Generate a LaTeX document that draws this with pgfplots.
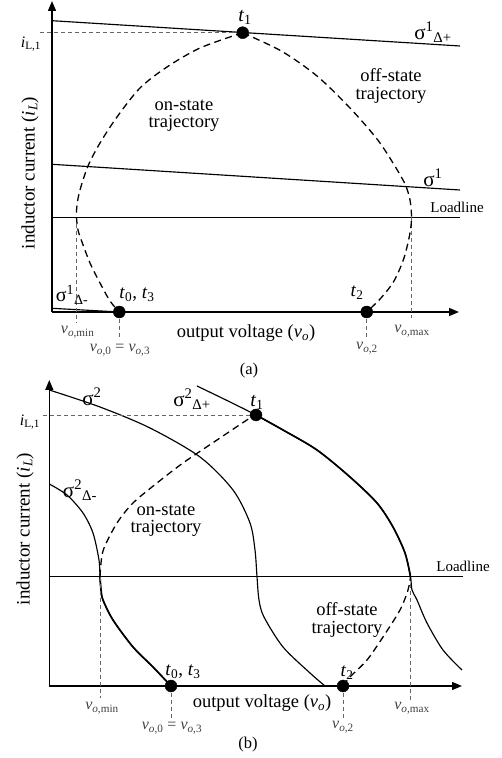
\documentclass[border=0pt]{standalone}
\usepackage{pgfplots}
\pgfplotsset{compat=1.18}
\usepackage{fontspec}
\setmainfont{Liberation Serif}
\usetikzlibrary{arrows.meta}

\newcommand{\fs}[1]{\fontsize{#1}{#1}\selectfont}
\newcommand{\vv}[1]{\textit{v}\textsubscript{#1}}

\tikzset{
  sig/.style={black, line width=1.15pt},
  ride/.style={black, line width=1.7pt},
  traj/.style={black, line width=1.3pt, dash pattern=on 7pt off 4.5pt},
  guide/.style={black!60, line width=0.8pt, dash pattern=on 4pt off 3pt},
  txt/.style={font=\fs{18.5}, align=center},
  vl/.style={font=\fs{16}, text=black!75},
}
\pgfplotsset{
  phase/.style={
    x=1pt, y=1pt, anchor=south west,
    axis lines=left, xtick=\empty, ytick=\empty, clip=false,
    axis line style={line width=1.4pt, -{Triangle[length=10pt,width=8pt]}},
  },
  dots/.style={only marks, mark=*, mark size=6pt, black},
}

\begin{document}
\begin{tikzpicture}
\path[use as bounding box] (0pt,0pt) rectangle (501pt,758pt);

% ---------------- (a) sliding lines sigma^1 ----------------
\begin{axis}[phase, at={(52pt,446pt)}, xmin=52, xmax=459, ymin=446, ymax=757]
  \addplot[sig] coordinates {(52,737.3) (460,712)};
  \addplot[sig] coordinates {(52,593.7) (460,568)};
  \addplot[sig] coordinates {(52,540.7) (460,540.7)};
  \addplot[sig] coordinates {(52,449.7) (119.3,446)};
  \addplot[guide] coordinates {(40,725.3) (242.7,725.3)};
  \addplot[guide] coordinates {(76.5,541) (76.5,435)};
  \addplot[guide] coordinates {(119.3,446) (119.3,418)};
  \addplot[guide] coordinates {(366.7,446) (366.7,420)};
  \addplot[guide] coordinates {(411.5,541) (411.5,440)};
  % on-state trajectory
  \addplot[traj, smooth] coordinates {(242.7,725.3) (200,710) (167,691) (140,670)
    (117,641) (100,615) (88,592) (80,568) (77,553) (76.5,541) (78,528) (82,516)
    (90,495) (100,475) (110,457) (119.3,446)};
  % off-state trajectory
  \addplot[traj, smooth] coordinates {(242.7,725.3) (250,722) (283,706) (317,682)
    (350,650) (377,619) (393,595) (405,574) (410,558) (411.5,541) (410,525)
    (404,500) (394,477) (381,460) (366.7,446)};
  \addplot[traj] coordinates {(119.3,446) (366.7,446)};
  \addplot[dots] coordinates {(242.7,725.3) (119.3,446) (366.7,446)};

  \node[font=\fs{20}] at (axis cs:245,741) {\textit{t}\textsubscript{1}};
  \node[font=\fs{21}] at (axis cs:433,726) {σ\textsuperscript{1}\textsubscript{Δ+}};
  \node[font=\fs{21}] at (axis cs:433,580) {σ\textsuperscript{1}};
  \node[font=\fs{15}] at (axis cs:457,551) {Loadline};
  \node[font=\fs{20}] at (axis cs:72,463) {σ\textsuperscript{1}\textsubscript{Δ-}};
  \node[font=\fs{16}] at (axis cs:31,714) {\textit{i}\textsubscript{L,1}};
  \node[font=\fs{19}] at (axis cs:137,463) {\textit{t}\textsubscript{0}, \textit{t}\textsubscript{3}};
  \node[font=\fs{19}] at (axis cs:357,465) {\textit{t}\textsubscript{2}};
  \node[txt] at (axis cs:184,642) {on-state\\[-1pt]trajectory};
  \node[txt] at (axis cs:391,672) {off-state\\[-1pt]trajectory};
  \node[font=\fs{19}, rotate=90] at (axis cs:30,585) {inductor current (\textit{i}\textsubscript{\textit{L}})};
  \node[txt] at (axis cs:246,425) {output voltage (\vv{\textit{o}})};
  \node[vl] at (axis cs:77.7,426) {\vv{\textit{o},min}};
  \node[vl] at (axis cs:120,408) {\vv{\textit{o},0} = \vv{\textit{o},3}};
  \node[vl] at (axis cs:367,410) {\vv{\textit{o},2}};
  \node[vl] at (axis cs:412,427) {\vv{\textit{o},max}};
  \node[font=\fs{16.5}] at (axis cs:249,387) {(a)};
\end{axis}

% ---------------- (b) sliding curves sigma^2 ----------------
\begin{axis}[phase, at={(49.3pt,72pt)}, xmin=49.3, xmax=462, ymin=72, ymax=378]
  \addplot[sig] coordinates {(49.3,181.3) (463,181.3)};
  \addplot[sig, smooth] coordinates {(49.3,368) (100,351) (150,330) (200,301)
    (233,268) (250,235) (255,208) (257,181.3) (259,158) (264,141) (283,111)
    (310,85) (325,72)};
  \addplot[sig, smooth] coordinates {(197,372) (226,358) (256,343) (283,328)
    (317,308) (350,281) (377,255) (393,231) (405,205) (410.5,181.3) (412,168)
    (417,158) (427,135) (443,108) (462,88)};
  \addplot[sig, smooth] coordinates {(49.3,274) (67,263) (83,245) (93,225)
    (99,198) (100,181.3) (101,168) (103,158) (113,138) (133,111) (153,91) (171,72)};
  % trajectory riding on the sliding curves
  \addplot[ride, smooth] coordinates {(256,343) (283,328) (317,308) (350,281)
    (377,255) (393,231) (405,205) (410.5,181.3)};
  \addplot[ride, smooth] coordinates {(100,181.3) (101,168) (103,158) (113,138)
    (133,111) (153,91) (171,72)};
  \addplot[guide] coordinates {(43,343) (256,343)};
  \addplot[guide] coordinates {(100,181.3) (100,60)};
  \addplot[guide] coordinates {(171,72) (171,38)};
  \addplot[guide] coordinates {(343,72) (343,40)};
  \addplot[guide] coordinates {(410.5,181.3) (410.5,58)};
  % on-state trajectory
  \addplot[traj, smooth] coordinates {(100,181.3) (101,195) (104,210) (117,235)
    (133,255) (157,275) (183,295) (217,318) (250,340) (256,343)};
  % off-state trajectory
  \addplot[traj, smooth] coordinates {(343,72) (350,81) (367,98) (383,121)
    (400,148) (408,168) (410.5,181.3)};
  \addplot[traj] coordinates {(171,72) (343,72)};
  \addplot[dots] coordinates {(256,343) (171,72) (343,72)};

  \node[font=\fs{20}] at (axis cs:257,356) {\textit{t}\textsubscript{1}};
  \node[font=\fs{21}] at (axis cs:92,361) {σ\textsuperscript{2}};
  \node[font=\fs{21}] at (axis cs:192,359) {σ\textsuperscript{2}\textsubscript{Δ+}};
  \node[font=\fs{21}] at (axis cs:80,268) {σ\textsuperscript{2}\textsubscript{Δ-}};
  \node[font=\fs{15}] at (axis cs:463,192) {Loadline};
  \node[font=\fs{16}] at (axis cs:30,336) {\textit{i}\textsubscript{L,1}};
  \node[font=\fs{19}] at (axis cs:183,86) {\textit{t}\textsubscript{0}, \textit{t}\textsubscript{3}};
  \node[font=\fs{19}] at (axis cs:347,85) {\textit{t}\textsubscript{2}};
  \node[txt] at (axis cs:166,237) {on-state\\[-1pt]trajectory};
  \node[txt] at (axis cs:347,138) {off-state\\[-1pt]trajectory};
  \node[font=\fs{19}, rotate=90] at (axis cs:25,229) {inductor current (\textit{i}\textsubscript{\textit{L}})};
  \node[txt] at (axis cs:262,55) {output voltage (\vv{\textit{o}})};
  \node[vl] at (axis cs:102,50) {\vv{\textit{o},min}};
  \node[vl] at (axis cs:172,30) {\vv{\textit{o},0} = \vv{\textit{o},3}};
  \node[vl] at (axis cs:343,31) {\vv{\textit{o},2}};
  \node[vl] at (axis cs:412,50) {\vv{\textit{o},max}};
  \node[font=\fs{16.5}] at (axis cs:248,13) {(b)};
\end{axis}
\end{tikzpicture}
\end{document}
